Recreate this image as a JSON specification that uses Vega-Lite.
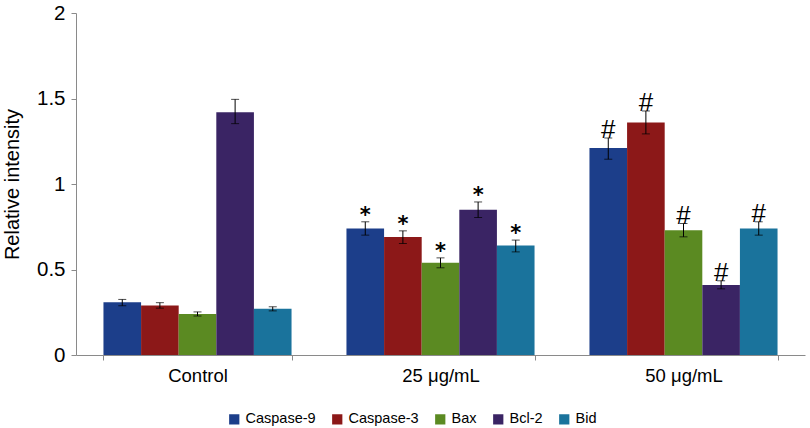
{
  "$schema": "https://vega.github.io/schema/vega-lite/v6.json",
  "autosize": {"type": "none"},
  "padding": {"left": 76, "top": 13, "right": 5, "bottom": 73},
  "width": 729,
  "height": 342,
  "background": "white",
  "config": {
    "view": {"stroke": null},
    "font": "Liberation Sans",
    "axis": {"grid": false, "domainColor": "#8a8a8a", "tickColor": "#8a8a8a", "labelColor": "black", "titleColor": "black", "labelFont": "Liberation Sans", "titleFont": "Liberation Sans", "titleFontWeight": "normal"}
  },
  "data": {
    "values": [
      {"group": "Control", "protein": "Caspase-9", "value": 0.308, "lo": 0.288, "hi": 0.325, "sig": ""},
      {"group": "Control", "protein": "Caspase-3", "value": 0.29, "lo": 0.274, "hi": 0.306, "sig": ""},
      {"group": "Control", "protein": "Bax", "value": 0.24, "lo": 0.228, "hi": 0.252, "sig": ""},
      {"group": "Control", "protein": "Bcl-2", "value": 1.42, "lo": 1.353, "hi": 1.495, "sig": ""},
      {"group": "Control", "protein": "Bid", "value": 0.27, "lo": 0.258, "hi": 0.282, "sig": ""},
      {"group": "25 μg/mL", "protein": "Caspase-9", "value": 0.74, "lo": 0.701, "hi": 0.779, "sig": "*"},
      {"group": "25 μg/mL", "protein": "Caspase-3", "value": 0.69, "lo": 0.652, "hi": 0.726, "sig": "*"},
      {"group": "25 μg/mL", "protein": "Bax", "value": 0.54, "lo": 0.51, "hi": 0.568, "sig": "*"},
      {"group": "25 μg/mL", "protein": "Bcl-2", "value": 0.85, "lo": 0.804, "hi": 0.895, "sig": "*"},
      {"group": "25 μg/mL", "protein": "Bid", "value": 0.64, "lo": 0.603, "hi": 0.672, "sig": "*"},
      {"group": "50 μg/mL", "protein": "Caspase-9", "value": 1.21, "lo": 1.145, "hi": 1.269, "sig": "#"},
      {"group": "50 μg/mL", "protein": "Caspase-3", "value": 1.36, "lo": 1.293, "hi": 1.427, "sig": "#"},
      {"group": "50 μg/mL", "protein": "Bax", "value": 0.73, "lo": 0.691, "hi": 0.769, "sig": "#"},
      {"group": "50 μg/mL", "protein": "Bcl-2", "value": 0.41, "lo": 0.387, "hi": 0.434, "sig": "#"},
      {"group": "50 μg/mL", "protein": "Bid", "value": 0.74, "lo": 0.701, "hi": 0.779, "sig": "#"}
    ]
  },
  "encoding": {
    "x": {
      "field": "group", "type": "nominal", "sort": ["Control", "25 μg/mL", "50 μg/mL"],
      "scale": {"paddingInner": 0.226, "paddingOuter": 0.113},
      "axis": {"title": null, "labelAngle": 0, "labelFontSize": 18.5, "labelPadding": 6, "tickBand": "extent", "tickSize": 5}
    },
    "xOffset": {"field": "protein", "type": "nominal", "sort": ["Caspase-9", "Caspase-3", "Bax", "Bcl-2", "Bid"], "scale": {"paddingInner": 0, "paddingOuter": 0}}
  },
  "layer": [
    {
      "mark": {"type": "bar"},
      "encoding": {
        "y": {"field": "value", "type": "quantitative", "scale": {"domain": [0, 2]},
          "axis": {"title": "Relative intensity", "values": [0, 0.5, 1, 1.5, 2], "format": "~g", "labelFontSize": 20.5, "titleFontSize": 20, "labelPadding": 6, "tickSize": 5, "titlePadding": 14}},
        "color": {
          "field": "protein", "type": "nominal", "sort": ["Caspase-9", "Caspase-3", "Bax", "Bcl-2", "Bid"],
          "scale": {"domain": ["Caspase-9", "Caspase-3", "Bax", "Bcl-2", "Bid"], "range": ["#1c3e8a", "#8c1818", "#5b8a22", "#3a2464", "#1a739c"]},
          "legend": {"title": null, "orient": "none", "direction": "horizontal", "legendX": 151, "legendY": 399, "symbolType": "square", "symbolSize": 105, "symbolStrokeWidth": 0, "labelFontSize": 14.5, "labelColor": "black", "columnPadding": 14, "labelOffset": 4, "padding": 0}
        }
      }
    },
    {
      "mark": {"type": "rule", "color": "black", "strokeWidth": 1},
      "encoding": {"y": {"field": "lo", "type": "quantitative"}, "y2": {"field": "hi"}}
    },
    {
      "mark": {"type": "tick", "color": "black", "thickness": 1, "size": 8},
      "encoding": {"y": {"field": "lo", "type": "quantitative"}}
    },
    {
      "mark": {"type": "tick", "color": "black", "thickness": 1, "size": 8},
      "encoding": {"y": {"field": "hi", "type": "quantitative"}}
    },
    {
      "transform": [{"filter": "datum.sig == '*'"}],
      "mark": {"type": "text", "baseline": "alphabetic", "align": "center", "color": "black", "font": "DejaVu Sans", "fontWeight": "bold", "fontSize": 21},
      "encoding": {
        "y": {"field": "hi", "type": "quantitative"},
        "text": {"field": "sig"}
      }
    },
    {
      "transform": [{"filter": "datum.sig == '#'"}],
      "mark": {"type": "text", "baseline": "alphabetic", "align": "center", "color": "black", "fontSize": 26},
      "encoding": {
        "y": {"field": "hi", "type": "quantitative"},
        "text": {"field": "sig"}
      }
    }
  ]
}
